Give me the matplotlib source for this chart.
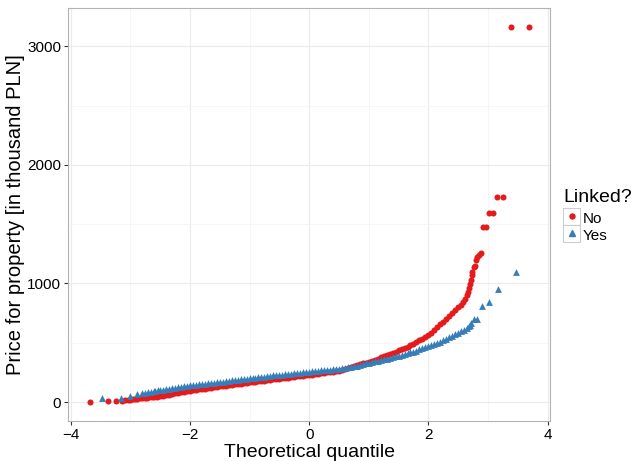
import matplotlib
matplotlib.use("Agg")
import matplotlib.pyplot as plt
from matplotlib.patches import Rectangle
from matplotlib.lines import Line2D

plt.rcParams['font.family'] = ['Liberation Sans', 'DejaVu Sans']

# QQ data: theoretical quantile and price [thousand PLN]
no_quantile = [
    -3.68, -3.38, -3.24, -3.14, -3.09, -3.04, -3.00, -2.96, -2.92, -2.88,
    -2.84, -2.80, -2.76, -2.72, -2.68, -2.64, -2.60, -2.56, -2.53,
    -2.50, -2.45, -2.40, -2.35, -2.30, -2.25, -2.20, -2.15, -2.10, -2.05,
    -2.00, -1.95, -1.90, -1.85, -1.80, -1.75, -1.70, -1.65, -1.60, -1.55,
    -1.50, -1.45, -1.40, -1.35, -1.30, -1.25, -1.20, -1.15, -1.10, -1.05,
    -1.00, -0.95, -0.90, -0.85, -0.80, -0.75, -0.70, -0.65, -0.60, -0.55,
    -0.50, -0.45, -0.40, -0.35, -0.30, -0.25, -0.20, -0.15, -0.10, -0.05,
    0.00, 0.05, 0.10, 0.15, 0.20, 0.25, 0.30, 0.35, 0.40, 0.45,
    0.50, 0.55, 0.60, 0.65, 0.70, 0.75, 0.80, 0.85, 0.90, 0.95,
    1.00, 1.05, 1.10, 1.15, 1.20, 1.25, 1.30, 1.35, 1.40, 1.45,
    1.50, 1.55, 1.60, 1.65, 1.70, 1.75, 1.80, 1.85, 1.90, 1.95,
    2.00, 2.05, 2.10, 2.15, 2.20, 2.25, 2.30, 2.35, 2.40, 2.45,
    2.50, 2.54, 2.58, 2.61, 2.64, 2.66, 2.68, 2.70, 2.71, 2.73,
    2.74, 2.76, 2.78, 2.80, 2.82, 2.85, 2.88, 2.92, 2.96, 3.02,
    3.08, 3.15, 3.25, 3.39, 3.69,
]
no_price = [
    0, 8, 9, 12, 14, 16, 18, 22, 24, 27,
    30, 32, 35, 37, 40, 42, 44, 46, 48,
    50, 54, 59, 63, 68, 72, 77, 81, 86, 90,
    95, 99, 103, 106, 110, 114, 118, 122, 125, 129,
    133, 136, 139, 143, 146, 149, 152, 155, 159, 162,
    165, 168, 171, 175, 178, 181, 184, 187, 191, 194,
    197, 200, 203, 206, 209, 212, 216, 219, 222, 225,
    228, 232, 235, 239, 243, 246, 250, 254, 257, 261,
    265, 272, 279, 286, 294, 302, 310, 318, 326, 333,
    340, 349, 358, 367, 376, 385, 395, 405, 415, 425,
    435, 446, 457, 468, 479, 490, 504, 519, 534, 549,
    564, 586, 609, 631, 654, 677, 701, 726, 750, 775,
    800, 822, 845, 870, 900, 930, 960, 995, 1030, 1070,
    1100, 1135, 1150, 1200, 1225, 1240, 1255, 1480, 1480, 1595,
    1595, 1733, 1733, 3165, 3165,
]

yes_quantile = [
    -3.47, -3.15, -3.00, -2.89, -2.81, -2.76, -2.70, -2.65, -2.61, -2.58,
    -2.54,
    -2.50, -2.45, -2.40, -2.35, -2.30, -2.25, -2.20, -2.15, -2.10, -2.05,
    -2.00, -1.95, -1.90, -1.85, -1.80, -1.75, -1.70, -1.65, -1.60, -1.55,
    -1.50, -1.45, -1.40, -1.35, -1.30, -1.25, -1.20, -1.15, -1.10, -1.05,
    -1.00, -0.95, -0.90, -0.85, -0.80, -0.75, -0.70, -0.65, -0.60, -0.55,
    -0.50, -0.45, -0.40, -0.35, -0.30, -0.25, -0.20, -0.15, -0.10, -0.05,
    0.00, 0.05, 0.10, 0.15, 0.20, 0.25, 0.30, 0.35, 0.40, 0.45,
    0.50, 0.55, 0.60, 0.65, 0.70, 0.75, 0.80, 0.85, 0.90, 0.95,
    1.00, 1.05, 1.10, 1.15, 1.20, 1.25, 1.30, 1.35, 1.40, 1.45,
    1.50, 1.55, 1.60, 1.65, 1.70, 1.75, 1.80, 1.85, 1.90, 1.95,
    2.00, 2.05, 2.10, 2.15, 2.20, 2.25, 2.30, 2.35, 2.40, 2.45,
    2.50, 2.55, 2.60, 2.65, 2.68, 2.70, 2.72, 2.76, 2.82, 2.90,
    3.02, 3.16, 3.47,
]
yes_price = [
    38, 38, 53, 65, 78, 80, 82, 87, 91, 95,
    98,
    101, 105, 109, 113, 117, 121, 125, 129, 133, 136,
    140, 143, 146, 149, 152, 155, 158, 161, 164, 167,
    170, 173, 176, 179, 182, 185, 188, 191, 194, 197,
    200, 203, 206, 209, 212, 215, 218, 221, 224, 227,
    230, 232, 235, 237, 240, 242, 245, 247, 250, 252,
    255, 258, 260, 263, 266, 268, 271, 274, 276, 279,
    282, 286, 290, 293, 297, 303, 308, 314, 320, 325,
    331, 337, 343, 348, 354, 360, 366, 372, 378, 384,
    390, 397, 404, 411, 418, 425, 434, 443, 452, 461,
    470, 480, 489, 499, 508, 521, 534, 547, 559, 572,
    585, 597, 610, 625, 640, 650, 665, 699, 699, 812,
    840, 950, 1100,
]

red = '#E41A1C'
blue = '#377EB8'

W, H = 635, 461
fig = plt.figure(figsize=(W/100, H/100), dpi=100)
ax = fig.add_axes([68/W, 40/H, 482/W, 413/H])

ax.scatter(no_quantile, no_price, s=19, c=red, marker='o', linewidths=0, zorder=3)
ax.scatter(yes_quantile, yes_price, s=24, c=blue, marker='^', linewidths=0, zorder=4)

ax.set_xlim(-4.045, 4.04)
ax.set_ylim(-160, 3323)
ax.set_xticks([-4, -2, 0, 2, 4])
ax.set_yticks([0, 1000, 2000, 3000])
ax.set_xticks([-3, -1, 1, 3], minor=True)
ax.set_yticks([500, 1500, 2500], minor=True)
ax.grid(which='major', color='#EBEBEB', linewidth=0.8, zorder=0)
ax.grid(which='minor', color='#F5F5F5', linewidth=0.6, zorder=0)
ax.set_axisbelow(True)
for sp in ax.spines.values():
    sp.set_color('#B3B3B3')
    sp.set_linewidth(0.8)
ax.tick_params(which='major', length=3, width=0.8, color='#333333',
               labelsize=11, labelcolor='black', pad=2)
ax.tick_params(which='minor', length=0)

ax.set_xlabel('Theoretical quantile', fontsize=14, va='baseline')
ax.xaxis.set_label_coords(0.5, (421 - 457) / 413)
ax.set_ylabel('Price for property [in thousand PLN]', fontsize=14.5)
ax.yaxis.set_label_coords((25 - 68) / 482, 0.5)

# legend drawn by hand, ggplot style
fig.text(563/W, 1 - 201.5/H, 'Linked?', fontsize=14, va='baseline', ha='left')
keys = [('No', red, 'o', 3.6), ('Yes', blue, '^', 4.2)]
for i, (lab, col, mk, ms) in enumerate(keys):
    top = 208 + 17*i
    y0 = 1 - (top + 17)/H
    fig.patches.append(Rectangle((563/W, y0), 17/W, 17/H,
                                 transform=fig.transFigure, facecolor='white',
                                 edgecolor='#CCCCCC', linewidth=0.8))
    fig.lines.append(Line2D([571.5/W], [y0 + 8.5/H], transform=fig.transFigure,
                            marker=mk, color=col, markersize=ms, linestyle='none'))
    fig.text(583/W, 1 - (top + 14.5)/H, lab, fontsize=11, va='baseline', ha='left')

fig.savefig('out.png', dpi=100)
